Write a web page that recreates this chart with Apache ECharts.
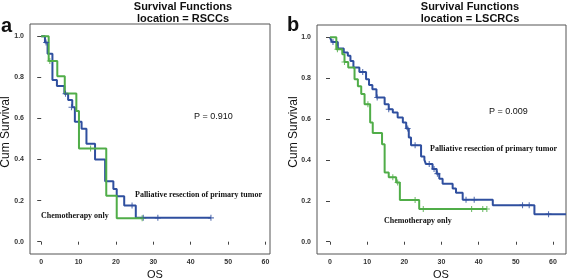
<!DOCTYPE html>
<html>
<head>
<meta charset="utf-8">
<script src="https://cdn.jsdelivr.net/npm/echarts@6/dist/echarts.min.js"></script>
<style>
html,body{margin:0;padding:0;background:#fff;}
#chart{width:567px;height:280px;}
</style>
</head>
<body>
<div id="chart"></div>
<script>
// panel a: location = RSCCs
var aSurgT = [0, 1, 1.7, 3, 4.2, 6.2, 7.2, 8.3, 9, 10.8, 12.1, 14.4, 17.1, 19.3, 20.2, 22.2, 25.3, 45.4];
var aSurgS = [1.0, 0.97, 0.915, 0.787, 0.758, 0.72, 0.69, 0.655, 0.584, 0.55, 0.477, 0.40, 0.294, 0.257, 0.221, 0.176, 0.116, 0.116];
var aSurgCensT = [1.3, 6.5, 8.1, 24.3, 27.3, 31.2, 45.4];
var aSurgCensS = [0.97, 0.72, 0.655, 0.176, 0.116, 0.116, 0.116];
var aChemoT = [0, 2, 4.3, 6.3, 9.4, 10.1, 17.4, 20.2, 27];
var aChemoS = [1.0, 0.88, 0.805, 0.722, 0.636, 0.454, 0.224, 0.114, 0.114];
var aChemoCensT = [2.3, 13.2, 27];
var aChemoCensS = [0.88, 0.454, 0.114];

// panel b: location = LSCRCs
var bSurgT = [0, 0.5, 2.1, 3.7, 4.8, 5.5, 6.3, 7.9, 9.7, 10.5, 11.4, 12.5, 14.7, 15.8, 16.9, 18.2, 19.6, 20.5, 21.2, 21.8, 24.5, 25.4, 25.8, 27.6, 28.7, 29.4, 30.3, 33, 33.9, 35.7, 43.8, 55, 63.5];
var bSurgS = [1.0, 0.977, 0.945, 0.925, 0.909, 0.884, 0.852, 0.83, 0.795, 0.766, 0.746, 0.705, 0.673, 0.648, 0.632, 0.608, 0.583, 0.554, 0.51, 0.472, 0.417, 0.40, 0.38, 0.356, 0.333, 0.308, 0.284, 0.26, 0.24, 0.205, 0.179, 0.135, 0.135];
var bSurgCensT = [0.8, 8.8, 12.7, 15.8, 20.9, 22.9, 26.7, 28.0, 28.9, 36.6, 38.8, 51.8, 53.6, 58.8];
var bSurgCensS = [0.977, 0.83, 0.705, 0.648, 0.554, 0.472, 0.38, 0.356, 0.333, 0.205, 0.205, 0.179, 0.179, 0.135];
var bChemoT = [0, 1.7, 3.3, 3.9, 4.9, 6.6, 7.5, 8.4, 9.3, 10.8, 11.5, 14.0, 14.7, 15.8, 17.8, 18.8, 24.0, 42.2];
var bChemoS = [1.0, 0.941, 0.917, 0.879, 0.852, 0.795, 0.76, 0.722, 0.672, 0.583, 0.532, 0.477, 0.339, 0.315, 0.29, 0.204, 0.16, 0.16];
var bChemoCensT = [2.0, 3.9, 10.2, 16.9, 18.2, 22.9, 25.1, 38.1, 41.1, 42.2];
var bChemoCensS = [0.941, 0.879, 0.672, 0.315, 0.29, 0.204, 0.16, 0.16, 0.16, 0.16];

var xTicks = [0, 10, 20, 30, 40, 50, 60];
var yTicks = [0, 0.2, 0.4, 0.6, 0.8, 1.0];

var blue = '#2f4f9f', green = '#50ad48';
var sans = '"Liberation Sans", Arial, sans-serif';
var serif = '"Liberation Serif", "Times New Roman", serif';
var plus = 'path://M-0.18,-1H0.18V-0.18H1V0.18H0.18V1H-0.18V0.18H-1V-0.18H-0.18Z';

function pairs(t, s){
	var out = [];
	for(var i=0;i<t.length;i++) out.push([t[i], s[i]]);
	return out;
}

function xAxisOf(idx, min, max){
	return {
		gridIndex: idx, type: 'value', min: min, max: max,
		splitLine: {show: false},
		axisLine: {show: false},
		axisTick: {show: true, length: 3, customValues: xTicks, lineStyle: {color: '#444'}},
		axisLabel: {customValues: xTicks, margin: 5, fontSize: 7, fontWeight: 'bold', color: '#333', fontFamily: sans}
	};
}
function yAxisOf(idx){
	return {
		gridIndex: idx, type: 'value', min: -0.06, max: 1.06,
		splitLine: {show: false},
		axisLine: {show: false},
		axisTick: {show: true, length: 4, customValues: yTicks, lineStyle: {color: '#444'}},
		axisLabel: {customValues: yTicks, margin: 6, fontSize: 7, fontWeight: 'bold', color: '#333', fontFamily: sans,
			formatter: function(v){ return v.toFixed(1); }}
	};
}
function stepLine(idx, t, s, color, z){
	return {
		type: 'line', xAxisIndex: idx, yAxisIndex: idx, step: 'end',
		data: pairs(t, s), showSymbol: false, silent: true, z: z,
		lineStyle: {color: color, width: 2}
	};
}
function censor(idx, t, s, color, z){
	return {
		type: 'scatter', xAxisIndex: idx, yAxisIndex: idx,
		data: pairs(t, s), symbol: plus, symbolSize: 6, silent: true, z: z,
		itemStyle: {color: color}
	};
}
function txt(x, y, text, font, opt){
	var o = {type: 'text', x: x, y: y, style: {text: text, font: font, fill: '#111', align: 'left', verticalAlign: 'middle'}};
	if(opt){ for(var k in opt) o.style[k] = opt[k]; }
	return o;
}

var chart = echarts.init(document.getElementById('chart'), null, {renderer: 'canvas'});
var option = {
	backgroundColor: '#fff',
	animation: false,
	title: [
		{text: 'Survival Functions\nlocation = RSCCs', left: 183, top: 1, padding: 0, textAlign: 'center',
			textStyle: {fontSize: 11, fontWeight: 'bold', fontFamily: sans, color: '#111', lineHeight: 12}},
		{text: 'Survival Functions\nlocation = LSCRCs', left: 470, top: 1, padding: 0, textAlign: 'center',
			textStyle: {fontSize: 11, fontWeight: 'bold', fontFamily: sans, color: '#111', lineHeight: 12}}
	],
	grid: [
		{left: 30, top: 24, width: 240, height: 230, show: true, borderColor: '#555', borderWidth: 1, backgroundColor: '#fff'},
		{left: 317, top: 25, width: 249, height: 229, show: true, borderColor: '#555', borderWidth: 1, backgroundColor: '#fff'}
	],
	xAxis: [xAxisOf(0, -3, 61.2), xAxisOf(1, -3.5, 63.5)],
	yAxis: [yAxisOf(0), yAxisOf(1)],
	series: [
		stepLine(0, aSurgT, aSurgS, blue, 2),
		stepLine(0, aChemoT, aChemoS, green, 3),
		censor(0, aSurgCensT, aSurgCensS, blue, 4),
		censor(0, aChemoCensT, aChemoCensS, green, 5),
		stepLine(1, bSurgT, bSurgS, blue, 2),
		stepLine(1, bChemoT, bChemoS, green, 3),
		censor(1, bSurgCensT, bSurgCensS, blue, 4),
		censor(1, bChemoCensT, bChemoCensS, green, 5)
	],
	graphic: [
		txt(1, 26, 'a', 'bold 20px ' + sans),
		txt(287, 25, 'b', 'bold 20px ' + sans),
		txt(6, 132, 'Cum Survival', '12px ' + sans, {align: 'center'}),
		txt(294, 132, 'Cum Survival', '12px ' + sans, {align: 'center'}),
		txt(155, 275, 'OS', '11px ' + sans, {align: 'center'}),
		txt(441, 275, 'OS', '11px ' + sans, {align: 'center'}),
		txt(194, 117, 'P = 0.910', '9px ' + sans),
		txt(489, 112, 'P = 0.009', '9px ' + sans),
		txt(135, 195, 'Palliative resection of primary tumor', 'bold 8px ' + serif),
		txt(41, 216, 'Chemotherapy only', 'bold 8px ' + serif),
		txt(430, 149, 'Palliative resection of primary tumor', 'bold 8px ' + serif),
		txt(384, 221, 'Chemotherapy only', 'bold 8px ' + serif)
	]
};
// rotate the two y-axis names
option.graphic[2].rotation = Math.PI / 2;
option.graphic[3].rotation = Math.PI / 2;
chart.setOption(option);
</script>
</body>
</html>
